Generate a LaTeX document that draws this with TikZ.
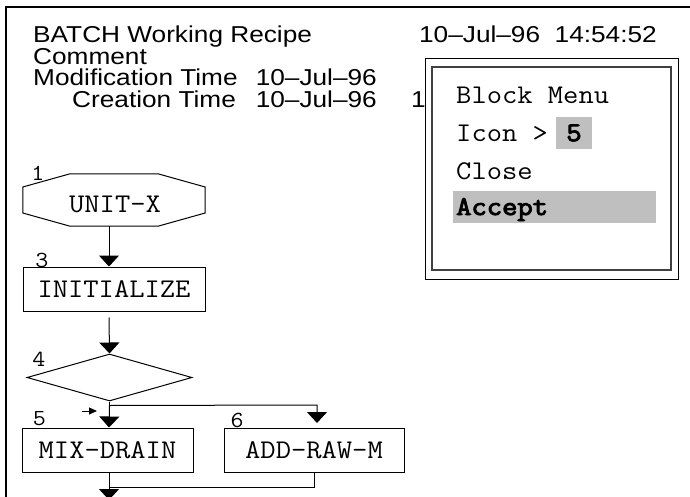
\documentclass[tikz,border=0pt]{standalone}
\usepackage{fontspec}
\setmainfont{Liberation Sans}
\newfontfamily\hvfont[FakeStretch=1.14]{Liberation Sans}
\newfontfamily\crfont[FakeStretch=1.1]{Latin Modern Mono}
\newfontfamily\crboldfont[FakeStretch=1.1,FakeBold=3.5]{Latin Modern Mono}
\usetikzlibrary{arrows.meta,shapes.geometric,calc}
\definecolor{menugray}{gray}{0.75}
\begin{document}
\begin{tikzpicture}[x=1pt,y=-1pt,
  hdr/.style={font=\hvfont\fontsize{23}{27}\selectfont, inner sep=0, anchor=base west},
  mono/.style={font=\crfont\fontsize{27}{31}\selectfont, inner sep=0},
  monobold/.style={font=\crboldfont\fontsize{27}{31}\selectfont, inner sep=0},
  num/.style={font=\crfont\fontsize{23}{27}\selectfont, inner sep=0, anchor=base},
  stepbox/.style={mono, draw, line width=1pt, minimum height=44, inner sep=0},
  wire/.style={line width=1pt},
  flow/.style={wire, -{Triangle[width=20pt,length=11pt]}},
  menuitem/.style={mono, anchor=base west},
]
\useasboundingbox (0,0) rectangle (690,497);

% window frame (open at the bottom)
\draw[line width=2.5pt] (6,500) -- (6,7) -- (692,7);

% header lines
\node[hdr] (title) at (33,43) {BATCH Working Recipe};
\node[hdr, anchor=base east] (stamp) at (657,43) {10–Jul–96\ \ 14:54:52};
\node[hdr] (comment) at (33,65) {Comment};
\node[hdr] (modlbl) at (33,86) {Modification Time};
\node[hdr, anchor=base east] (moddate) at (377,86) {10–Jul–96};
\node[hdr] (crelbl) at (72,108) {Creation Time};
\node[hdr, anchor=base east] (credate) at (377,108) {10–Jul–96};
\node[hdr] (cretime) at (411,108) {1};

% pop-up block menu
\draw[line width=1pt, fill=white] (425,59) rectangle (678,279);
\draw[line width=1.4pt, draw=black!75, fill=white] (432,67) rectangle (671,270);
\node[menuitem] (mhead) at (456,104) {Block Menu};
\node[menuitem] (micon) at (456,142) {Icon >};
\fill[menugray] (556,117) rectangle (592,149);
\node[monobold] (mval) at (574,133) {5};
\node[menuitem] (mclose) at (456,179) {Close};
\fill[menugray] (453,191) rectangle (656,223);
\node[monobold, anchor=base west] (maccept) at (456,215) {Accept};

% trunk line of the chart
\coordinate (trunk) at (109,0);

% step 1: unit block (octagon)
\node[minimum width=182, minimum height=52, inner sep=0] (unit) at (114,200) {};
\draw[wire] ($(unit.west)+(0,-13)$) -- ($(unit.north)+(-44,0)$) -- ($(unit.north)+(44,0)$)
  -- ($(unit.east)+(0,-13)$) -- ($(unit.east)+(0,13)$) -- ($(unit.south)+(44,0)$)
  -- ($(unit.south)+(-44,0)$) -- ($(unit.west)+(0,13)$) -- cycle;
\node[mono, anchor=base] (unittxt) at (115,212) {UNIT–X};
\node[num] (n1) at (38,180) {1};

% step 3
\node[stepbox, minimum width=182] (init) at (114,289) {INITIALIZE};
\node[num] (n3) at (42,267) {3};

% step 4: branch
\node[diamond, draw, wire, minimum width=165, minimum height=47, inner sep=0, aspect=3.5] (branch) at (109.5,377.5) {};
\node[num] (n4) at (39,366) {4};

% steps 5 and 6
\node[stepbox, minimum width=171] (mix) at (107.5,450) {MIX–DRAIN};
\node[stepbox, minimum width=180] (add) at (314,450) {ADD–RAW–M};
\node[num] (n5) at (39.5,425) {5};
\node[num] (n6) at (237,427) {6};

% connectors
\draw[flow] (unit.south -| trunk) -- (init.north -| trunk);
\draw[flow] (init.south -| trunk) ++(0,6) coordinate (c1) -- (branch.north);
\coordinate (split) at ($(branch.south)+(0,4)$);
\coordinate (right) at (317,405);
\draw[wire] (branch.south) -- (split);
\draw[flow] (split) -- (mix.north -| trunk);
\draw[flow] (split) -- (right) -- ($(right)+(0,18)$);
\coordinate (join) at (109,487);
\draw[wire] (add.south) -- (add.south |- join) -- (join);
\draw[flow] (mix.south -| trunk) -- (109,500);

% cursor marker
\coordinate (cur) at (82,411);
\draw[wire, -{Triangle[width=7pt,length=8pt]}] (cur) -- ++(15,0);
\end{tikzpicture}
\end{document}
